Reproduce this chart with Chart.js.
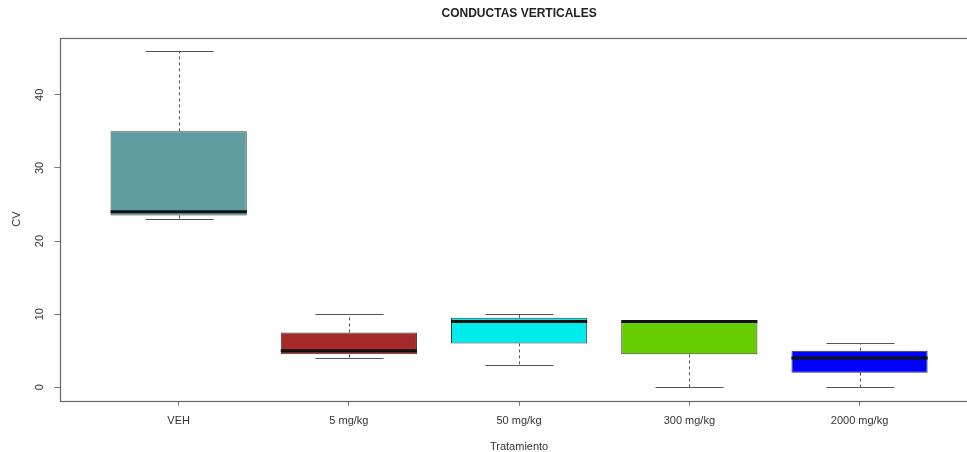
<!DOCTYPE html>
<html>
<head>
<meta charset="utf-8">
<script src="https://cdn.jsdelivr.net/npm/chart.js@4/dist/chart.umd.min.js"></script>
<style>
  html, body { margin: 0; padding: 0; background: #ffffff; overflow: hidden; }
  #wrap { width: 967px; height: 452px; overflow: hidden; position: relative; }
  canvas { display: block; }
</style>
</head>
<body>
<div id="wrap"><canvas id="chart" width="990" height="452"></canvas></div>
<script>
// Treatment groups and their box-and-whisker summaries (CV counts)
const categories  = ['VEH', '5 mg/kg', '50 mg/kg', '300 mg/kg', '2000 mg/kg'];
const whiskerLow  = [23,   4,   3,   0,   0];
const quartile1   = [23.5, 4.5, 6,   4.5, 2];
const medians     = [24,   5,   9,   9,   4];
const quartile3   = [35,   7.5, 9.5, 9,   5];
const whiskerHigh = [46,   10,  10,  9,   6];
const yTicks      = [0, 10, 20, 30, 40];
const boxColors   = ['#5F9EA0', '#A52A2A', '#00EBEB', '#66CD00', '#0000FF'];

// Groups sit at 1..n; both axes get a 4% margin beyond the data range
const positions = categories.map((c, i) => i + 1);
const yLo = Math.min(...whiskerLow), yHi = Math.max(...whiskerHigh);
const yPad = 0.04 * (yHi - yLo);
const xLo = 0.5, xHi = categories.length + 0.5;
const xPad = 0.04 * (xHi - xLo);

const FONT = "'Liberation Sans', Arial, sans-serif";
const TEXT = '#333333';

// Whiskers, staples, medians and the frame around the plotting region
const boxplotExtras = {
  id: 'boxplotExtras',
  afterDatasetsDraw(chart) {
    const { ctx, chartArea, scales: { x, y } } = chart;
    const bars = chart.getDatasetMeta(0).data;
    ctx.save();
    positions.forEach((p, i) => {
      const cx = Math.round(x.getPixelForValue(p)) + 0.5;
      const capHalf = x.getPixelForValue(p + 0.2) - x.getPixelForValue(p);
      const yMin = y.getPixelForValue(whiskerLow[i]);
      const yQ1 = y.getPixelForValue(quartile1[i]);
      const yQ3 = y.getPixelForValue(quartile3[i]);
      const yMax = y.getPixelForValue(whiskerHigh[i]);

      // dashed whiskers
      ctx.strokeStyle = '#555555';
      ctx.lineWidth = 1;
      ctx.setLineDash([3, 3]);
      ctx.beginPath();
      if (whiskerHigh[i] > quartile3[i]) { ctx.moveTo(cx, yQ3); ctx.lineTo(cx, yMax); }
      if (whiskerLow[i] < quartile1[i]) { ctx.moveTo(cx, yQ1); ctx.lineTo(cx, yMin); }
      ctx.stroke();

      // solid staples
      ctx.setLineDash([]);
      ctx.strokeStyle = '#555555';
      ctx.beginPath();
      ctx.moveTo(cx - capHalf, Math.round(yMax) + 0.5); ctx.lineTo(cx + capHalf, Math.round(yMax) + 0.5);
      ctx.moveTo(cx - capHalf, Math.round(yMin) + 0.5); ctx.lineTo(cx + capHalf, Math.round(yMin) + 0.5);
      ctx.stroke();

      // thick median bar across the box
      const bar = bars[i];
      const yMed = y.getPixelForValue(medians[i]);
      ctx.strokeStyle = '#111111';
      ctx.lineWidth = 3;
      ctx.beginPath();
      ctx.moveTo(bar.x - bar.width / 2, yMed);
      ctx.lineTo(bar.x + bar.width / 2, yMed);
      ctx.stroke();
    });

    // plot frame
    ctx.strokeStyle = '#666666';
    ctx.lineWidth = 1.2;
    ctx.strokeRect(Math.round(chartArea.left) + 0.5, Math.round(chartArea.top) + 0.5,
                   Math.round(chartArea.width), Math.round(chartArea.height));
    ctx.restore();
  }
};

new Chart(document.getElementById('chart'), {
  type: 'bar',
  data: {
    datasets: [{
      data: positions.map((p, i) => ({ x: p, y: [quartile1[i], quartile3[i]] })),
      backgroundColor: boxColors,
      borderColor: '#3a3a3a',
      borderWidth: 1,
      borderSkipped: false,
      barPercentage: 0.8,
      categoryPercentage: 1.0
    }]
  },
  options: {
    responsive: false,
    animation: false,
    devicePixelRatio: 1,
    layout: { padding: { left: 0, right: 11.3, top: 0, bottom: 0 } },
    plugins: {
      legend: { display: false },
      tooltip: { enabled: false },
      title: {
        display: true,
        text: 'CONDUCTAS VERTICALES',
        fullSize: false,
        color: '#222222',
        font: { family: FONT, size: 12, weight: 'bold', lineHeight: 1.2 },
        padding: { top: 6, bottom: 17.1 }
      }
    },
    scales: {
      x: {
        type: 'linear',
        offset: false,
        min: xLo - xPad,
        max: xHi + xPad,
        afterBuildTicks: s => { s.ticks = positions.map(v => ({ value: v })); },
        afterFit: s => { s.height = 51.3; },
        grid: { offset: false, drawOnChartArea: false, tickLength: 5, color: '#777777' },
        border: { display: false },
        ticks: {
          autoSkip: false,
          maxRotation: 0,
          padding: 9,
          color: TEXT,
          font: { family: FONT, size: 11 },
          callback: v => categories[positions.indexOf(v)]
        },
        title: {
          display: true,
          text: 'Tratamiento',
          color: TEXT,
          font: { family: FONT, size: 11, lineHeight: 1.0 },
          padding: { top: 0, bottom: 0 }
        }
      },
      y: {
        type: 'linear',
        min: yLo - yPad,
        max: yHi + yPad,
        afterBuildTicks: s => { s.ticks = yTicks.map(v => ({ value: v })); },
        afterFit: s => { s.width = 59.5; },
        grid: { drawOnChartArea: false, tickLength: 5, color: '#777777' },
        border: { display: false },
        ticks: {
          minRotation: 90,
          maxRotation: 90,
          crossAlign: 'center',
          padding: 8,
          color: TEXT,
          font: { family: FONT, size: 11 }
        },
        title: {
          display: true,
          text: 'CV',
          color: TEXT,
          font: { family: FONT, size: 11, lineHeight: 1.2 },
          padding: { top: 10.4, bottom: 0 }
        }
      }
    }
  },
  plugins: [boxplotExtras]
});
</script>
</body>
</html>
